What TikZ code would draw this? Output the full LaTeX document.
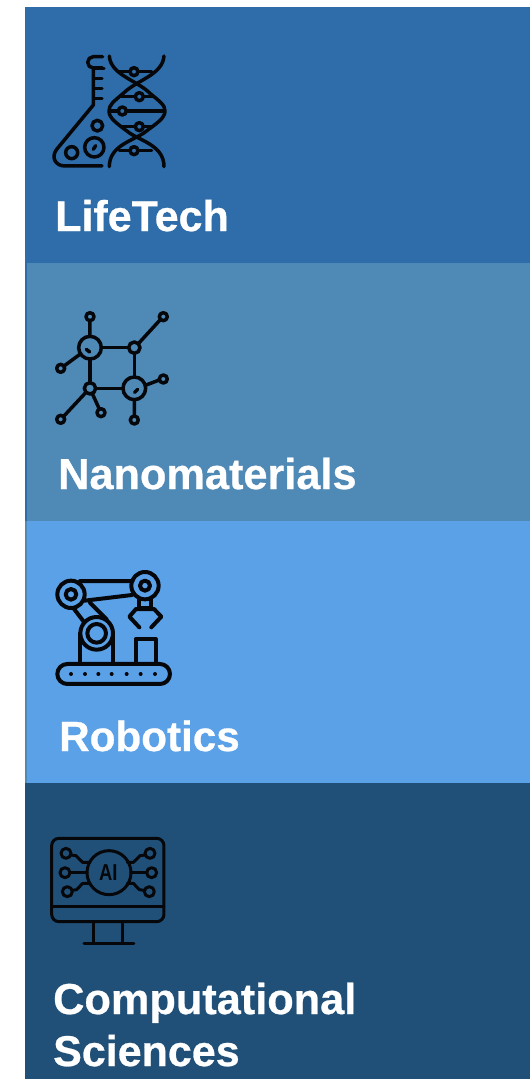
\documentclass[tikz,border=0pt]{standalone}
\usepackage{fontspec}
\setmainfont{Liberation Sans}[BoldFeatures={FakeBold=0.6}]
\newfontface\aifont{Liberation Sans Bold}
\definecolor{bandA}{HTML}{2E6DA9}
\definecolor{bandB}{HTML}{4F89B6}
\definecolor{bandC}{HTML}{5BA1E8}
\definecolor{bandD}{HTML}{205078}
\definecolor{iconink}{HTML}{05070A}
\tikzset{
  band/.style={fill=#1,draw=none},
  title/.style={anchor=base west,inner sep=0pt,text=white,font=\bfseries\fontsize{#1}{#1}\selectfont},
  icon/.style={shift={#1},x=0.3333pt,y=-0.3333pt,draw=iconink,line width=3.5pt,line cap=round,line join=round},
  blob/.style={fill=iconink,draw=none}
}
\begin{document}
\begin{tikzpicture}[x=1pt,y=-1pt]
\useasboundingbox (0,0) rectangle (530,1079);
\fill[white] (0,0) rectangle (530,1079);
\fill[band=bandA] (25,7) rectangle (530,263);
\fill[band=bandB] (25,263) rectangle (530,521);
\fill[band=bandC] (25,521) rectangle (530,783);
\fill[band=bandD] (25,783) rectangle (530,1079);
\fill[bandA] (25,263) rectangle (27,521);
\fill[bandB] (25,521) rectangle (27,783);

% LifeTech icon
\begin{scope}[icon={(40,40)}]
  \draw (188,50) -- (160,50) arc[start angle=270,end angle=90,radius=17] -- (188,84);
  \draw (160,84) -- (160,195) -- (50,328) .. controls (32,352) and (46,378) .. (75,378) -- (186,378);
  \draw (165,85) -- (192,85) (165,115) -- (186,115) (165,145) -- (186,145) (165,176) -- (186,176);
  \draw (172,257) circle[radius=16];
  \draw (163,322) circle[radius=29];
  \draw (95,338) circle[radius=18];
  \draw (163,322) ++(-3,6) -- ++(7,-11);
  % helix
  \draw (208,48) .. controls (212,105) and (290,120) .. (330,160) .. controls (360,185) and (375,195) .. (375,213) .. controls (375,235) and (350,250) .. (310,280) .. controls (270,305) and (208,320) .. (208,380);
  \draw (372,48) .. controls (368,105) and (290,120) .. (250,160) .. controls (220,185) and (207,195) .. (207,213) .. controls (207,235) and (230,250) .. (270,280) .. controls (310,305) and (372,320) .. (372,380);
  \draw (238,95) -- (270,95) (294,95) -- (335,95);
  \draw (245,170) -- (286,170) (310,170) -- (340,170);
  \draw (210,213) -- (234,213) (260,213) -- (372,213);
  \draw (245,260) -- (286,260) (310,260) -- (340,260);
  \draw (238,332) -- (270,332) (294,332) -- (335,332);
  \foreach \p in {(282,95),(298,170),(247,213),(298,260),(282,332)} \draw \p circle[radius=12];
\end{scope}

% Nanomaterials icon
\begin{scope}[icon={(40,300)}]
  \draw (150,143) circle[radius=34];
  \draw (283,265) circle[radius=34];
  \draw (283,143) circle[radius=17];
  \draw (150,265) circle[radius=17];
  \foreach \p in {(150,50),(370,50),(62,205),(370,237),(62,358),(183,338),(283,360)} \draw \p circle[radius=12];
  \draw (184,143) -- (266,143) (283,160) -- (283,231) (167,265) -- (249,265) (150,177) -- (150,248);
  \draw (150,62) -- (150,109) (295,131) -- (361,59) (121,162) -- (72,198);
  \draw (316,256) -- (358,240) (283,299) -- (283,348);
  \draw (138,277) -- (71,349) (157,281) -- (178,327);
  \draw (139,148) -- (149,156) (284,277) -- (293,268);
\end{scope}

% Robotics icon
\begin{scope}[icon={(40,560)},line width=4pt]
  \draw (93,103) circle[radius=41];
  \draw (93,103) circle[radius=16];
  \draw (315,77) circle[radius=41];
  \draw (315,77) circle[radius=15];
  \draw (170,220) circle[radius=28];
  \draw (170,220) circle[radius=49];
  \draw (120,63) -- (278,63) (134,122) -- (276,105);
  \draw (100,144) -- (132,186) (150,128) -- (200,178);
  \draw (121,312) -- (121,220) (219,220) -- (219,312);
  \draw (82,312) -- (360,312) arc[start angle=-90,end angle=90,radius=30] -- (82,372) arc[start angle=90,end angle=270,radius=30] -- cycle;
  \foreach \q in {93,135,175,215,260,302,345} \fill[blob] (\q,342) circle[radius=6];
  \draw (287,312) -- (287,237) -- (347,237) -- (347,312);
  \draw (297,118) -- (297,145) -- (333,145) -- (333,118);
  \draw (298,202) -- (268,170) -- (288,147) -- (342,147) -- (364,170) -- (334,202);
\end{scope}

% Computational Sciences icon
\begin{scope}[icon={(40,825)},line width=3pt]
  \draw (57,40) -- (350,40) arc[start angle=-90,end angle=0,radius=22] -- (372,268) arc[start angle=0,end angle=90,radius=22] -- (57,290) arc[start angle=90,end angle=180,radius=22] -- (35,62) arc[start angle=180,end angle=270,radius=22] -- cycle;
  \draw (35,243) -- (372,243);
  \draw (160,290) -- (160,355) (248,290) -- (248,355) (132,355) -- (282,355);
  \draw (207,143) circle[radius=66];
  \foreach \p in {(78,85),(75,143),(82,200),(330,85),(335,143),(328,200)} \draw \p circle[radius=15];
  \draw (92,90) -- (108,92) -- (128,112) -- (150,112);
  \draw (90,143) -- (141,143);
  \draw (96,196) -- (110,194) -- (128,175) -- (150,175);
  \draw (316,90) -- (300,92) -- (280,112) -- (262,112);
  \draw (320,143) -- (273,143);
  \draw (313,196) -- (298,194) -- (280,175) -- (262,175);
  \node[inner sep=0pt,text=iconink,xscale=0.8,font=\aifont\fontsize{23}{23}\selectfont] (aimark) at (205,143) {AI};
\end{scope}

\node[title=43] (lifetech) at (55,231) {LifeTech};
\node[title=43.3] (nano) at (58,489) {Nanomaterials};
\node[title=42.2] (robotics) at (59,751) {Robotics};
\node[title=43.3] (comp) at (53,1014) {Computational};
\node[title=43] (sci) at (53,1066) {Sciences};
\end{tikzpicture}
\end{document}
